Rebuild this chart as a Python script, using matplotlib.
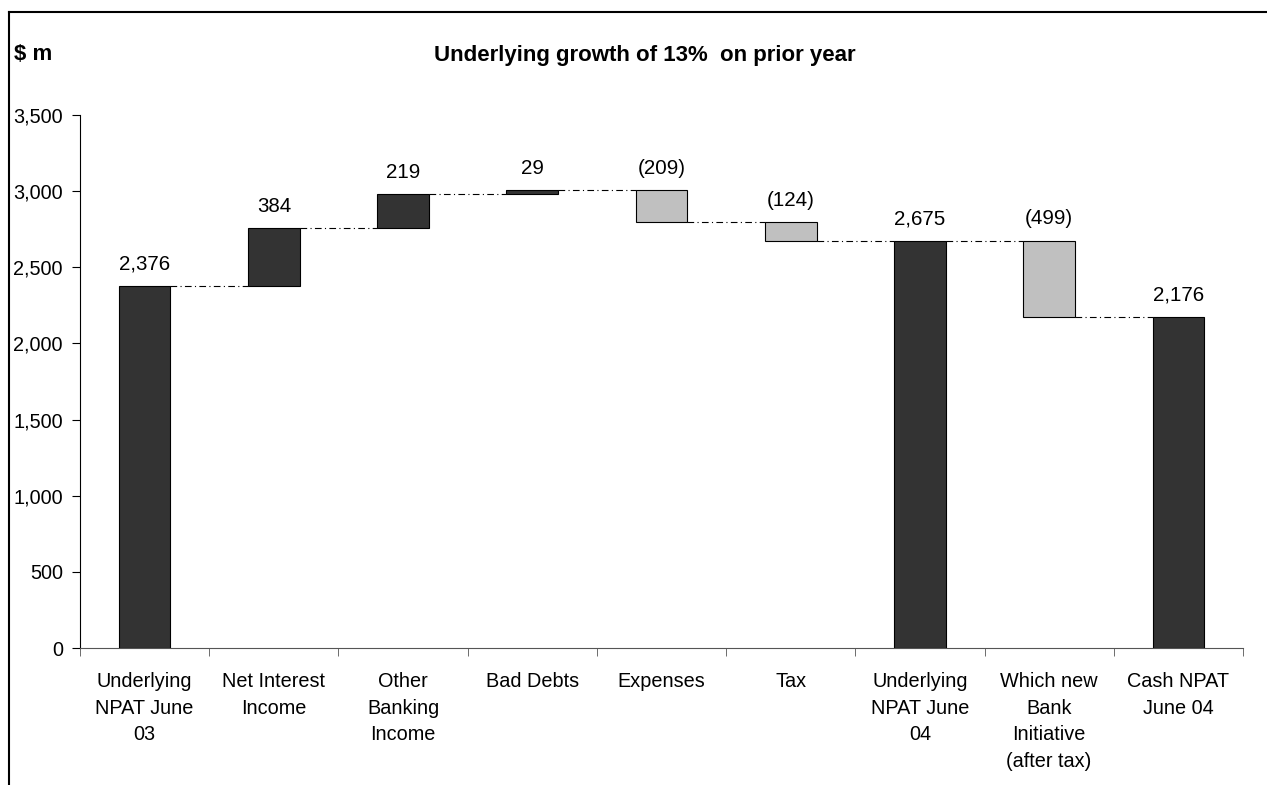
import matplotlib.pyplot as plt
from matplotlib.lines import Line2D
import numpy as np

plt.rcParams['font.family'] = ['Liberation Sans', 'DejaVu Sans']

categories = ["Underlying\nNPAT June\n03", "Net Interest\nIncome", "Other\nBanking\nIncome",
              "Bad Debts", "Expenses", "Tax", "Underlying\nNPAT June\n04",
              "Which new\nBank\nInitiative\n(after tax)", "Cash NPAT\nJune 04"]
values = [2376, 384, 219, 29, -209, -124, 2675, -499, 2176]
is_total = [True, False, False, False, False, False, True, False, True]

dark = "#333333"
light = "#c0c0c0"

fig = plt.figure(figsize=(12.67, 7.85), dpi=100)
ax = fig.add_axes([80 / 1267, 1 - 648 / 785, (1243 - 80) / 1267, (648 - 115) / 785])

x = np.arange(len(values))
w = 0.4
running = 0
bottoms, heights, colors, levels = [], [], [], []
for v, t in zip(values, is_total):
    if t:
        bottoms.append(0)
        heights.append(v)
        colors.append(dark)
        running = v
    else:
        bottoms.append(running if v >= 0 else running + v)
        heights.append(abs(v))
        colors.append(dark if v >= 0 else light)
        running += v
    levels.append(running)

ax.bar(x, heights, bottom=bottoms, width=w, color=colors, edgecolor="black", linewidth=0.8, zorder=3)

# connectors
for i in range(len(values) - 1):
    ax.plot([x[i] + w / 2, x[i + 1] - w / 2], [levels[i], levels[i]], color="black",
            linestyle=(0, (6, 3, 1, 3)), linewidth=0.8, zorder=2)

# value labels
for i, v in enumerate(values):
    top = bottoms[i] + heights[i]
    txt = "{:,}".format(v) if v >= 0 else "({:,})".format(-v)
    ax.text(x[i], top + 80, txt, ha="center", va="bottom", fontsize=14.8)

ax.set_xlim(-0.5, len(values) - 0.5)
ax.set_ylim(0, 3500)
ax.set_yticks(np.arange(0, 3501, 500))
ax.set_yticklabels(["{:,}".format(v) for v in range(0, 3501, 500)], fontsize=14.3)
ax.set_xticks(x)
ax.set_xticklabels(categories, fontsize=14.3, linespacing=1.5, va="top")
ax.set_xticks(np.arange(-0.5, len(values), 1), minor=True)
ax.tick_params(axis="x", which="major", length=0, pad=17.5)
ax.tick_params(axis="x", which="minor", length=6, direction="out", color="#555555")
ax.tick_params(axis="y", length=5.8, direction="out", pad=6.5)
ax.spines["top"].set_visible(False)
ax.spines["right"].set_visible(False)
ax.spines["bottom"].set_color("#555555")
ax.spines["left"].set_color("black")

fig.text(645 / 1267, 1 - 55 / 785, "Underlying growth of 13%  on prior year", ha="center", va="center",
         fontsize=16, fontweight="bold")
fig.text(14 / 1267, 1 - 55 / 785, "$ m", ha="left", va="center", fontsize=16, fontweight="bold")

# outer frame (left and top edges)
fig.add_artist(Line2D([9 / 1267, 9 / 1267], [0, 1 - 12 / 785], color="black", linewidth=1.5,
                      transform=fig.transFigure))
fig.add_artist(Line2D([9 / 1267, 1], [1 - 12 / 785, 1 - 12 / 785], color="black", linewidth=1.5,
                      transform=fig.transFigure))

fig.savefig("out.png", dpi=100)
